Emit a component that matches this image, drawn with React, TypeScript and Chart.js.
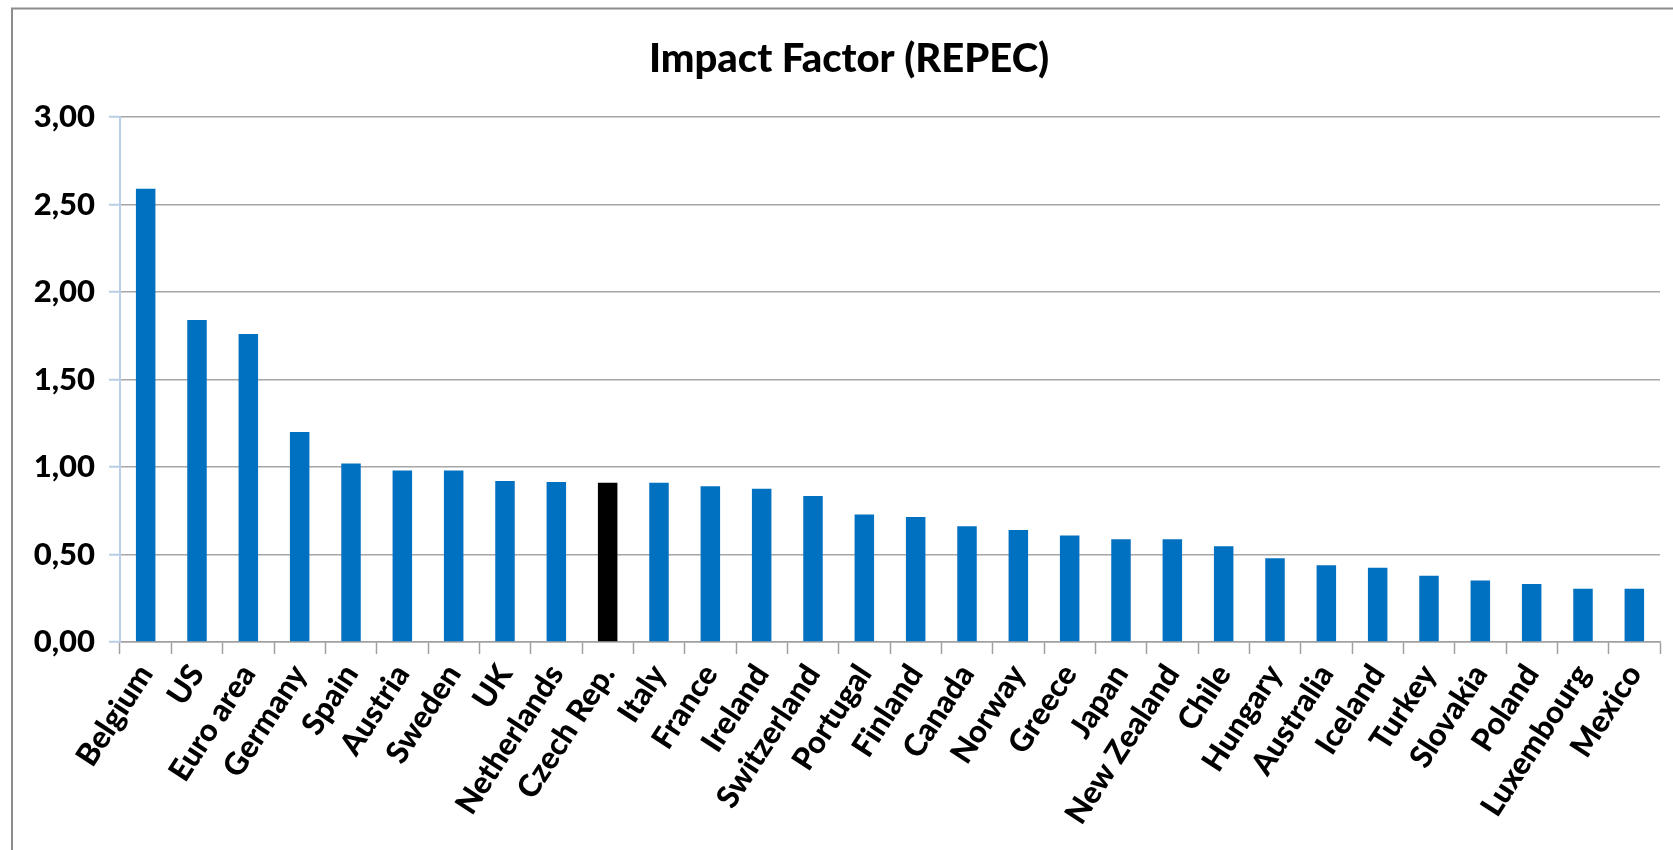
import React, { useEffect, useRef } from "react";
import { Chart, registerables } from "chart.js";

Chart.register(...registerables);

const categories = [
  "Belgium", "US", "Euro area", "Germany", "Spain", "Austria", "Sweden", "UK",
  "Netherlands", "Czech Rep.", "Italy", "France", "Ireland", "Switzerland",
  "Portugal", "Finland", "Canada", "Norway", "Greece", "Japan", "New Zealand",
  "Chile", "Hungary", "Australia", "Iceland", "Turkey", "Slovakia", "Poland",
  "Luxembourg", "Mexico",
];

const impactValues = [
  2.59, 1.84, 1.76, 1.2, 1.02, 0.98, 0.98, 0.92, 0.915, 0.91, 0.91, 0.89, 0.876,
  0.834, 0.728, 0.714, 0.661, 0.64, 0.608, 0.587, 0.587, 0.547, 0.478, 0.438,
  0.425, 0.379, 0.352, 0.331, 0.305, 0.305,
];

const highlighted = "Czech Rep.";

const yTickValues = [0, 0.5, 1, 1.5, 2, 2.5, 3];
const yTickLabels = ["0,00", "0,50", "1,00", "1,50", "2,00", "2,50", "3,00"];

const titleText = "Impact Factor (REPEC)";

const framePlugin = {
  id: "frame",
  beforeDraw(chart: any) {
    const ctx = chart.ctx;
    ctx.save();
    ctx.fillStyle = "#ffffff";
    ctx.fillRect(0, 0, chart.width, chart.height);
    ctx.strokeStyle = "#8c8c8c";
    ctx.lineWidth = 2;
    ctx.strokeRect(12, 8.5, chart.width + 40, chart.height + 40);
    ctx.restore();
  },
  afterDraw(chart: any) {
    const ctx = chart.ctx;
    ctx.save();
    ctx.fillStyle = "#000000";
    ctx.font = "900 40px Lato";
    ctx.textAlign = "center";
    ctx.textBaseline = "middle";
    ctx.fillText(titleText, 849, 59);
    ctx.restore();
  },
};

export default function App() {
  const canvasRef = useRef<HTMLCanvasElement | null>(null);

  useEffect(() => {
    if (!canvasRef.current) return;
    const chart = new Chart(canvasRef.current, {
      type: "bar",
      data: {
        labels: categories,
        datasets: [
          {
            label: titleText,
            data: impactValues,
            backgroundColor: categories.map((c) => (c === highlighted ? "#000000" : "#0070C0")),
            borderWidth: 0,
            barPercentage: 0.38,
            categoryPercentage: 1,
          },
        ],
      },
      options: {
        animation: false,
        responsive: false,
        maintainAspectRatio: false,
        layout: { padding: { left: 0, right: 13, top: 117, bottom: 0 } },
        plugins: {
          legend: { display: false },
          tooltip: { enabled: false },
          title: { display: false },
        },
        scales: {
          x: {
            offset: true,
            grid: {
              offset: true,
              drawOnChartArea: false,
              drawTicks: true,
              tickLength: 12,
              tickColor: "#a0a0a0",
              tickWidth: 1.5,
            },
            border: { display: true, color: "#a0a0a0", width: 1.5 },
            ticks: {
              autoSkip: false,
              maxRotation: 57,
              minRotation: 57,
              color: "#000000",
              padding: 4,
              font: { family: "Lato", size: 31, weight: "900" },
            },
            afterFit(scale: any) {
              scale.height = 208;
            },
          },
          y: {
            min: 0,
            max: 3,
            afterBuildTicks(scale: any) {
              scale.ticks = yTickValues.map((v) => ({ value: v }));
            },
            grid: {
              color: "#a6a6a6",
              lineWidth: 1.5,
              drawTicks: true,
              tickLength: 11,
              tickColor: "#b9cde5",
              tickWidth: 2,
            },
            border: { display: true, color: "#b9cde5", width: 2 },
            ticks: {
              color: "#000000",
              padding: 14,
              font: { family: "Lato", size: 31, weight: "900" },
              callback: (_v: any, i: number) => yTickLabels[i],
            },
            afterFit(scale: any) {
              scale.width = 120;
            },
          },
        },
      },
      plugins: [framePlugin],
    });
    return () => chart.destroy();
  }, []);

  return (
    <div style={{ position: "fixed", left: 0, top: 0, width: 1673, height: 850, overflow: "hidden", background: "#fff" }}>
      <canvas ref={canvasRef} width={1673} height={850} style={{ display: "block" }} />
    </div>
  );
}
